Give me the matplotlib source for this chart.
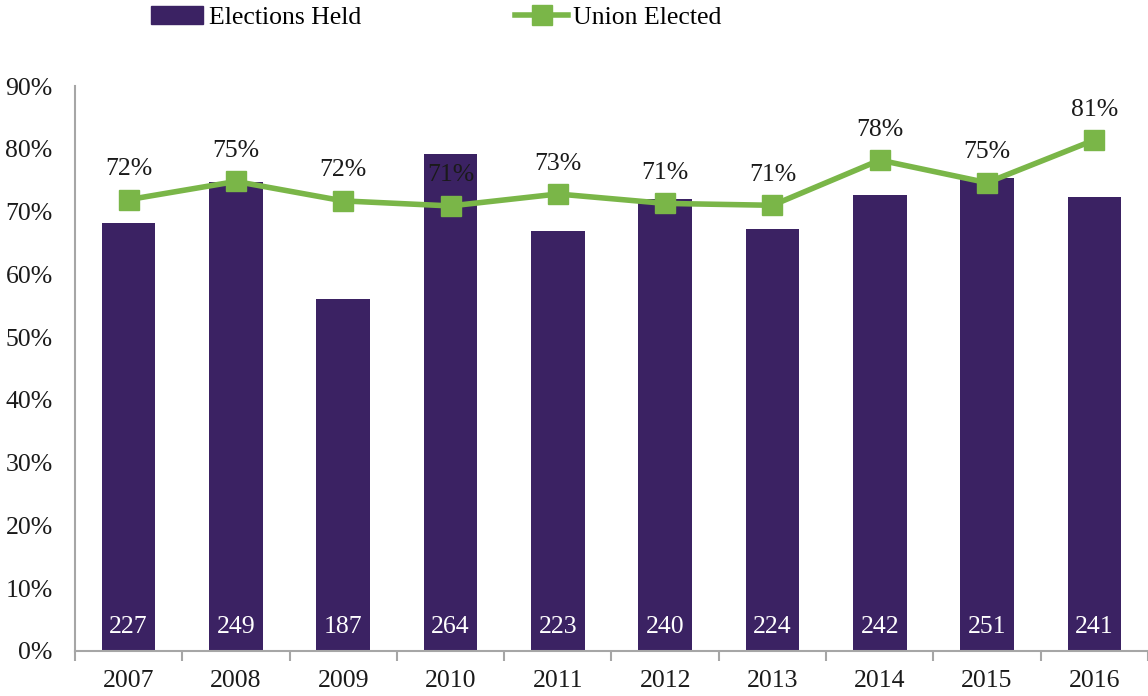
import matplotlib
matplotlib.use("Agg")
import matplotlib.pyplot as plt
from matplotlib.lines import Line2D
from matplotlib.patches import Patch
import numpy as np

years = ["2007", "2008", "2009", "2010", "2011", "2012", "2013", "2014", "2015", "2016"]
elections_held = [227, 249, 187, 264, 223, 240, 224, 242, 251, 241]
union_elected = [71.9, 74.8, 71.7, 70.9, 72.8, 71.3, 71.0, 78.2, 74.6, 81.4]
y_ticks = [0, 10, 20, 30, 40, 50, 60, 70, 80, 90]

bar_color = "#3b2263"
line_color = "#7ab648"
axis_color = "#a6a6a6"
text_color = "#1a1a1a"
plt.rcParams["font.family"] = ["Liberation Serif", "DejaVu Serif"]
fs = 18.5

fig = plt.figure(figsize=(11.48, 6.96), dpi=100)
ax = fig.add_axes([0.0653, 0.0647, 0.9347, 0.8117])
ax2 = ax.twinx()

x = np.arange(len(years))

# Election counts on a hidden secondary scale (0-300)
ax2.bar(x, elections_held, width=0.5, color=bar_color, zorder=1)
ax2.set_ylim(0, 300)
ax2.axis("off")
for xi, n in zip(x, elections_held):
    ax2.text(xi, 7, str(n), ha="center", va="bottom", color="white", fontsize=fs)

# Share of elections won by the union
ax.set_zorder(ax2.get_zorder() + 1)
ax.patch.set_visible(False)
ax.plot(x, union_elected, color=line_color, lw=4, marker="s", ms=14, zorder=3)
for xi, v in zip(x, union_elected):
    ax.annotate(f"{v:.0f}%", (xi, v), xytext=(0, 14), textcoords="offset points",
                ha="center", va="bottom", fontsize=fs, color=text_color)

ax.set_xlim(-0.5, len(years) - 0.5)
ax.set_ylim(0, 90)
ax.set_yticks(y_ticks)
ax.set_yticklabels([f"{t}%" for t in y_ticks], fontsize=fs, color=text_color)
ax.tick_params(axis="y", length=0, pad=16)

ax.set_xticks(x)
ax.set_xticklabels(years, fontsize=fs, color=text_color)
ax.set_xticks(np.arange(-0.5, len(years)), minor=True)
ax.tick_params(axis="x", which="major", length=0, pad=14)
ax.tick_params(axis="x", which="minor", length=7, color=axis_color, width=1.5)

for s in ["top", "right"]:
    ax.spines[s].set_visible(False)
for s in ["left", "bottom"]:
    ax.spines[s].set_color(axis_color)
    ax.spines[s].set_linewidth(1.5)

handles = [
    Patch(facecolor=bar_color, edgecolor=bar_color),
    Line2D([0], [0], color=line_color, lw=4, marker="s", ms=14),
]
fig.legend(handles, ["Elections Held", "Union Elected"], loc="upper left",
           bbox_to_anchor=(0.111, 1.025), ncol=2, frameon=False, fontsize=fs,
           handlelength=2.06, handletextpad=0.2, columnspacing=6.0)

fig.savefig("out.png", dpi=100)
